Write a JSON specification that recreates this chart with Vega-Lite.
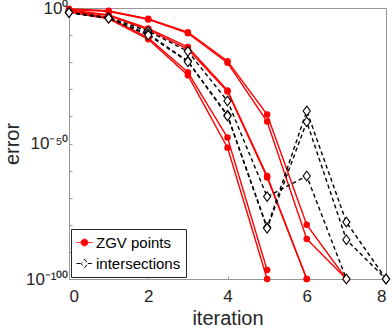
{
  "$schema": "https://vega.github.io/schema/vega-lite/v6.json",
  "width": 317,
  "height": 271,
  "autosize": "none",
  "padding": {"left": 69, "top": 8, "right": 6, "bottom": 50},
  "background": "white",
  "config": {
    "font": "Liberation Sans",
    "view": {"stroke": "#969696", "strokeWidth": 1},
    "axis": {
      "domainColor": "#969696",
      "tickColor": "#969696",
      "tickSize": -3,
      "grid": false,
      "labelColor": "#262626",
      "titleColor": "#262626",
      "labelFont": "Liberation Sans",
      "titleFont": "Liberation Sans",
      "labelFontSize": 17,
      "titleFontSize": 20,
      "titleFontWeight": "normal"
    }
  },
  "data": {
    "values": [
      {"s": "A1", "m": "ZGV points", "x": 0, "y": 5e-1},
      {"s": "A1", "m": "ZGV points", "x": 1, "y": 1e-1},
      {"s": "A1", "m": "ZGV points", "x": 2, "y": 1e-4},
      {"s": "A1", "m": "ZGV points", "x": 3, "y": 1.2e-9},
      {"s": "A1", "m": "ZGV points", "x": 4, "y": 2.5e-20},
      {"s": "A1", "m": "ZGV points", "x": 5, "y": 5e-40},
      {"s": "A1", "m": "ZGV points", "x": 6, "y": 1e-80},
      {"s": "A1", "m": "ZGV points", "x": 7, "y": 1e-100},
      {"s": "A2", "m": "ZGV points", "x": 0, "y": 3e-1},
      {"s": "A2", "m": "ZGV points", "x": 1, "y": 5e-2},
      {"s": "A2", "m": "ZGV points", "x": 2, "y": 6e-5},
      {"s": "A2", "m": "ZGV points", "x": 3, "y": 5e-10},
      {"s": "A2", "m": "ZGV points", "x": 4, "y": 6e-21},
      {"s": "A2", "m": "ZGV points", "x": 5, "y": 1.2e-42},
      {"s": "A2", "m": "ZGV points", "x": 6, "y": 6e-86},
      {"s": "A2", "m": "ZGV points", "x": 7, "y": 1e-100},
      {"s": "B1", "m": "ZGV points", "x": 0, "y": 2e-1},
      {"s": "B1", "m": "ZGV points", "x": 1, "y": 3e-3},
      {"s": "B1", "m": "ZGV points", "x": 2, "y": 3e-8},
      {"s": "B1", "m": "ZGV points", "x": 3, "y": 4e-15},
      {"s": "B1", "m": "ZGV points", "x": 4, "y": 4e-31},
      {"s": "B1", "m": "ZGV points", "x": 5, "y": 1e-62},
      {"s": "B1", "m": "ZGV points", "x": 6, "y": 1e-100},
      {"s": "B2", "m": "ZGV points", "x": 0, "y": 1e-1},
      {"s": "B2", "m": "ZGV points", "x": 1, "y": 1.5e-3},
      {"s": "B2", "m": "ZGV points", "x": 2, "y": 1e-8},
      {"s": "B2", "m": "ZGV points", "x": 3, "y": 6e-16},
      {"s": "B2", "m": "ZGV points", "x": 4, "y": 1.5e-31},
      {"s": "B2", "m": "ZGV points", "x": 5, "y": 3e-63},
      {"s": "B2", "m": "ZGV points", "x": 6, "y": 1e-100},
      {"s": "C1", "m": "ZGV points", "x": 0, "y": 6e-2},
      {"s": "C1", "m": "ZGV points", "x": 1, "y": 3e-4},
      {"s": "C1", "m": "ZGV points", "x": 2, "y": 1e-11},
      {"s": "C1", "m": "ZGV points", "x": 3, "y": 2e-24},
      {"s": "C1", "m": "ZGV points", "x": 4, "y": 1.5e-48},
      {"s": "C1", "m": "ZGV points", "x": 5, "y": 2e-97},
      {"s": "C2", "m": "ZGV points", "x": 0, "y": 3e-2},
      {"s": "C2", "m": "ZGV points", "x": 1, "y": 1e-4},
      {"s": "C2", "m": "ZGV points", "x": 2, "y": 3e-12},
      {"s": "C2", "m": "ZGV points", "x": 3, "y": 1.5e-25},
      {"s": "C2", "m": "ZGV points", "x": 4, "y": 3e-52},
      {"s": "C2", "m": "ZGV points", "x": 5, "y": 1e-100},
      {"s": "D1", "m": "intersections", "x": 0, "y": 3e-2},
      {"s": "D1", "m": "intersections", "x": 1, "y": 3e-4},
      {"s": "D1", "m": "intersections", "x": 2, "y": 3e-9},
      {"s": "D1", "m": "intersections", "x": 3, "y": 1e-16},
      {"s": "D1", "m": "intersections", "x": 4, "y": 5e-35},
      {"s": "D1", "m": "intersections", "x": 5, "y": 2.5e-70},
      {"s": "D1", "m": "intersections", "x": 6, "y": 1e-62},
      {"s": "D1", "m": "intersections", "x": 7, "y": 1e-100},
      {"s": "D2", "m": "intersections", "x": 0, "y": 2e-2},
      {"s": "D2", "m": "intersections", "x": 1, "y": 2e-4},
      {"s": "D2", "m": "intersections", "x": 2, "y": 3e-10},
      {"s": "D2", "m": "intersections", "x": 3, "y": 2.5e-20},
      {"s": "D2", "m": "intersections", "x": 4, "y": 3e-40},
      {"s": "D2", "m": "intersections", "x": 5, "y": 1e-81},
      {"s": "D2", "m": "intersections", "x": 6, "y": 1e-38},
      {"s": "D2", "m": "intersections", "x": 7, "y": 1e-79},
      {"s": "D2", "m": "intersections", "x": 8, "y": 1e-100},
      {"s": "D3", "m": "intersections", "x": 0, "y": 2e-2},
      {"s": "D3", "m": "intersections", "x": 1, "y": 1.5e-4},
      {"s": "D3", "m": "intersections", "x": 2, "y": 1e-10},
      {"s": "D3", "m": "intersections", "x": 3, "y": 1.5e-20},
      {"s": "D3", "m": "intersections", "x": 4, "y": 1.5e-40},
      {"s": "D3", "m": "intersections", "x": 5, "y": 5e-82},
      {"s": "D3", "m": "intersections", "x": 6, "y": 1e-42},
      {"s": "D3", "m": "intersections", "x": 7, "y": 3e-86},
      {"s": "D3", "m": "intersections", "x": 8, "y": 1e-100}
    ]
  },
  "encoding": {
    "x": {
      "field": "x", "type": "quantitative",
      "scale": {"domain": [0, 8], "nice": false, "zero": false},
      "axis": {"values": [0, 2, 4, 6, 8], "title": "iteration", "labelPadding": 12, "titlePadding": 4}
    },
    "y": {
      "field": "y", "type": "quantitative",
      "scale": {"type": "log", "domain": [1e-100, 1], "nice": false},
      "axis": {
        "values": [1, 1e-10, 1e-20, 1e-30, 1e-40, 1e-50, 1e-60, 1e-70, 1e-80, 1e-90, 1e-100],
        "labelExpr": "round(log(datum.value)/LN10) == 0 ? '10⁰' : round(log(datum.value)/LN10) == -50 ? '10⁻⁵⁰' : round(log(datum.value)/LN10) == -100 ? '10⁻¹⁰⁰' : ''",
        "title": "error",
        "labelPadding": 4,
        "titleX": -57,
        "titleBaseline": "middle"
      }
    }
  },
  "layer": [
    {
      "mark": {"type": "line", "strokeWidth": 1.4, "clip": true},
      "encoding": {
        "color": {
          "field": "m", "type": "nominal",
          "scale": {"domain": ["ZGV points", "intersections"], "range": ["#ff0000", "#000000"]},
          "legend": {
            "title": null,
            "orient": "bottom-left",
            "offset": 2,
            "padding": 5,
            "rowPadding": 4,
            "strokeColor": "#262626",
            "fillColor": "white",
            "labelFontSize": 15,
            "labelColor": "#000000",
            "labelOffset": 3,
            "symbolSize": 256,
            "symbolStrokeWidth": 1,
            "encode": {
              "symbols": {
                "update": {
                  "shape": {"signal": "datum.value == 'ZGV points' ? 'M-1,0L1,0M0.42,0A0.42,0.42 0 1,1 -0.42,0A0.42,0.42 0 1,1 0.42,0Z' : 'M-1,0L-0.42,0M0.42,0L1,0M0,-0.55L0.42,0L0,0.55L-0.42,0Z'"},
                  "fill": {"signal": "datum.value == 'ZGV points' ? '#ff0000' : 'white'"},
                  "strokeDash": {"value": []}
                }
              }
            }
          }
        },
        "strokeDash": {
          "field": "m", "type": "nominal",
          "scale": {"domain": ["ZGV points", "intersections"], "range": [[1, 0], [4, 3]]},
          "legend": null
        },
        "detail": {"field": "s", "type": "nominal"}
      }
    },
    {
      "transform": [{"filter": "datum.m == 'ZGV points'"}],
      "mark": {"type": "circle", "size": 42, "color": "#ff0000", "opacity": 1}
    },
    {
      "transform": [{"filter": "datum.m == 'intersections'"}],
      "mark": {"type": "point", "shape": "M0,-1.2L0.9,0L0,1.2L-0.9,0Z", "size": 64, "filled": true, "fill": "white", "stroke": "black", "strokeWidth": 1.1, "opacity": 1}
    }
  ]
}
